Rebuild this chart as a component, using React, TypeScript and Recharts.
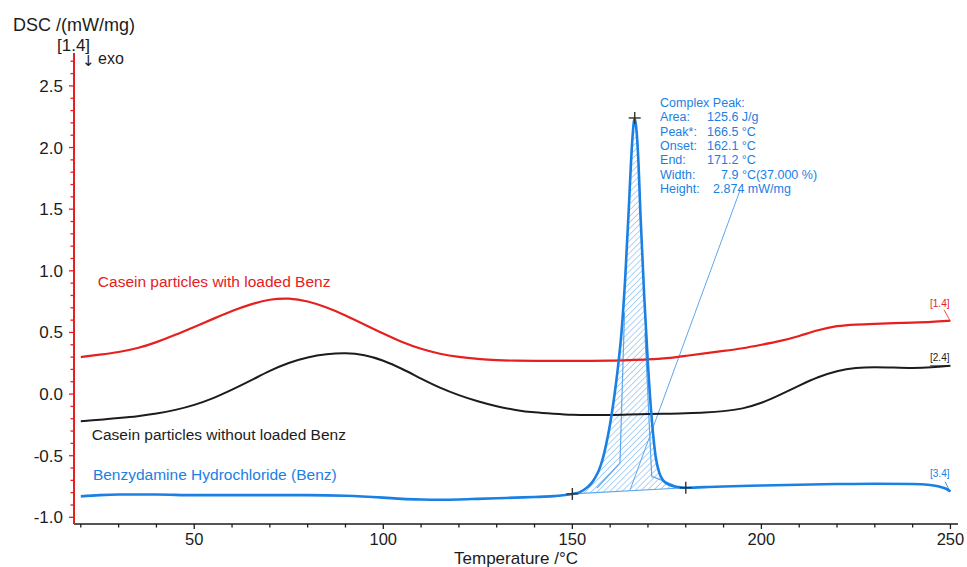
import React from 'react';
import { ComposedChart, Line, Area, XAxis, YAxis, ReferenceDot, ReferenceLine } from 'recharts';

const FONT = '"Liberation Sans", Arial, sans-serif';
const RED = '#e5201f';
const BLACK = '#1c1c1c';
const BLUE = '#1b80e4';
const HATCH = '#5ea7ec';

// Casein samples (°C)
const caseinT = [20, 25, 30, 35, 40, 45, 50, 55, 60, 65, 70, 75, 80, 85, 90, 95, 100, 105, 110, 115, 120, 125, 130, 135, 140, 145, 150, 155, 160, 165, 170, 175, 180, 185, 190, 195, 200, 205, 210, 215, 220, 225, 230, 235, 240, 245, 250];
const withBenz = [0.30, 0.32, 0.34, 0.37, 0.42, 0.48, 0.545, 0.61, 0.675, 0.73, 0.77, 0.78, 0.755, 0.705, 0.64, 0.565, 0.49, 0.42, 0.365, 0.325, 0.30, 0.285, 0.275, 0.27, 0.27, 0.27, 0.27, 0.27, 0.27, 0.275, 0.28, 0.29, 0.31, 0.33, 0.35, 0.37, 0.40, 0.43, 0.47, 0.52, 0.555, 0.565, 0.57, 0.575, 0.58, 0.585, 0.595];
const withoutBenz = [-0.22, -0.21, -0.195, -0.18, -0.16, -0.13, -0.09, -0.035, 0.035, 0.11, 0.19, 0.255, 0.30, 0.325, 0.335, 0.32, 0.275, 0.205, 0.125, 0.05, -0.01, -0.06, -0.10, -0.13, -0.15, -0.16, -0.17, -0.17, -0.17, -0.165, -0.16, -0.16, -0.155, -0.15, -0.14, -0.12, -0.075, -0.005, 0.07, 0.14, 0.19, 0.215, 0.22, 0.215, 0.21, 0.215, 0.23];

// Benzydamine hydrochloride
const benzPreT = [20, 25, 30, 40, 50, 60, 70, 80, 90, 100, 105, 110, 115, 120, 125, 130, 135, 140, 145];
const benzPre = [-0.83, -0.82, -0.815, -0.815, -0.82, -0.82, -0.82, -0.82, -0.825, -0.84, -0.85, -0.855, -0.857, -0.855, -0.85, -0.845, -0.84, -0.835, -0.828];
const peakT = [150, 152, 154, 155, 156, 157, 158, 159, 160, 161, 162, 163, 164, 165, 165.5, 166, 166.5, 167, 167.5, 168, 169, 170, 171, 172, 173, 174, 176, 178, 180];
const peakDSC = [-0.81, -0.795, -0.755, -0.725, -0.68, -0.62, -0.53, -0.40, -0.24, -0.04, 0.20, 0.50, 0.95, 1.55, 1.87, 2.12, 2.24, 2.13, 1.87, 1.47, 0.80, 0.24, -0.20, -0.50, -0.64, -0.70, -0.74, -0.755, -0.76];
const peakBase = [-0.81, -0.807, -0.803, -0.802, -0.8, -0.798, -0.797, -0.795, -0.793, -0.792, -0.79, -0.788, -0.787, -0.785, -0.784, -0.783, -0.783, -0.782, -0.781, -0.78, -0.778, -0.777, -0.775, -0.773, -0.772, -0.77, -0.767, -0.763, -0.76];
const benzPostT = [185, 190, 200, 210, 220, 230, 240, 244, 247, 249, 250];
const benzPost = [-0.755, -0.75, -0.742, -0.735, -0.73, -0.727, -0.73, -0.735, -0.75, -0.77, -0.79];

// Evaluation markers (+)
const markerT = [150, 180, 166.5];
const markerV = [-0.81, -0.76, 2.24];

// Axis ticks
const xTicks = [20, 30, 40, 50, 60, 70, 80, 90, 100, 110, 120, 130, 140, 150, 160, 170, 180, 190, 200, 210, 220, 230, 240, 250];
const yTicks = [-1.0, -0.9, -0.8, -0.7, -0.6, -0.5, -0.4, -0.3, -0.2, -0.1, 0.0, 0.1, 0.2, 0.3, 0.4, 0.5, 0.6, 0.7, 0.8, 0.9, 1.0, 1.1, 1.2, 1.3, 1.4, 1.5, 1.6, 1.7, 1.8, 1.9, 2.0, 2.1, 2.2, 2.3, 2.4, 2.5, 2.6, 2.7];

// Peak evaluation text
const peakLabels = ['Area:', 'Peak*:', 'Onset:', 'End:', 'Width:', 'Height:'];
const peakValues = ['125.6 J/g', '166.5 °C', '162.1 °C', '171.2 °C', '7.9 °C(37.000 %)', '2.874 mW/mg'];
const peakValueIndent = [0, 0, 0, 0, 14, 6];

const redData = caseinT.map((t, i) => ({ t, v: withBenz[i] }));
const blackData = caseinT.map((t, i) => ({ t, v: withoutBenz[i] }));
const blueData = [
  ...benzPreT.map((t, i) => ({ t, v: benzPre[i] })),
  ...peakT.map((t, i) => ({ t, v: peakDSC[i] })),
  ...benzPostT.map((t, i) => ({ t, v: benzPost[i] })),
];
const hatchData = peakT.map((t, i) => ({ t, range: [peakBase[i], peakDSC[i]] }));

const XTick = (props: any) => {
  const { x, y, payload } = props;
  const v = payload.value;
  const major = v % 50 === 0;
  return (
    <g>
      <line x1={x} y1={y} x2={x} y2={y + (major ? 5 : 3.5)} stroke={BLACK} strokeWidth={1.3} />
      {major && (
        <text x={x} y={y + 21} textAnchor="middle" fontSize={16.5} fill={BLACK} fontFamily={FONT}>
          {v}
        </text>
      )}
    </g>
  );
};

const YTick = (props: any) => {
  const { x, y, payload } = props;
  const v = payload.value;
  const major = Math.abs(v * 2 - Math.round(v * 2)) < 1e-6;
  return (
    <g>
      <line x1={x} y1={y} x2={x - (major ? 5 : 3.5)} y2={y} stroke={RED} strokeWidth={1.3} />
      {major && (
        <text x={x - 11} y={y + 6} textAnchor="end" fontSize={17} fill={BLACK} fontFamily={FONT}>
          {v.toFixed(1)}
        </text>
      )}
    </g>
  );
};

const TextAt = (content: string, color: string, size: number, anchor: string = 'start') => (props: any) => (
  <text x={props.cx} y={props.cy} fill={color} fontSize={size} fontFamily={FONT} textAnchor={anchor}>
    {content}
  </text>
);

const PeakBlock = (props: any) => {
  const { cx, cy } = props;
  return (
    <g fontFamily={FONT} fontSize={12.5} fill={BLUE}>
      <text x={cx} y={cy}>Complex Peak:</text>
      {peakLabels.map((l, i) => (
        <text key={l} x={cx} y={cy + 14.4 * (i + 1)}>{l}</text>
      ))}
      {peakValues.map((v, i) => (
        <text key={v} x={cx + 47 + peakValueIndent[i]} y={cy + 14.4 * (i + 1)}>{v}</text>
      ))}
    </g>
  );
};

const Cross = (props: any) => {
  const { cx, cy } = props;
  return (
    <g stroke="#333" strokeWidth={1.4}>
      <line x1={cx - 6} y1={cy} x2={cx + 6} y2={cy} />
      <line x1={cx} y1={cy - 6} x2={cx} y2={cy + 6} />
    </g>
  );
};

const YLabel = (props: any) => {
  const vb = props.viewBox || { x: 0, y: 53, width: 74, height: 471 };
  const ax = vb.x + vb.width;
  return (
    <g fontFamily={FONT} fill={BLACK}>
      <text x={vb.x + 13} y={vb.y - 22.5} fontSize={18}>DSC /(mW/mg)</text>
      <text x={ax - 17} y={vb.y - 2.5} fontSize={17}>[1.4]</text>
      <text x={ax + 8} y={vb.y + 13} fontSize={15} fontFamily='"DejaVu Sans", sans-serif'>↓</text>
      <text x={ax + 24} y={vb.y + 11} fontSize={16}>exo</text>
    </g>
  );
};

const XLabel = (props: any) => {
  const vb = props.viewBox || { x: 74, y: 524, width: 884, height: 43 };
  return (
    <text x={vb.x + vb.width / 2} y={vb.y + 39.5} textAnchor="middle" fontSize={17} fill={BLACK} fontFamily={FONT}>
      Temperature /°C
    </text>
  );
};

export default function App() {
  return (
    <div style={{ position: 'absolute', left: 0, top: 0, width: 967, height: 567, background: '#fff' }}>
      <ComposedChart width={967} height={567} margin={{ top: 53, right: 9, bottom: 0, left: 0 }}>
        <defs>
          <pattern id="hatch" patternUnits="userSpaceOnUse" width="4.3" height="4.3" patternTransform="rotate(45)">
            <line x1="0" y1="0" x2="0" y2="4.3" stroke={HATCH} strokeWidth="1" />
          </pattern>
        </defs>
        <XAxis
          dataKey="t"
          type="number"
          domain={[18.2, 252]}
          allowDataOverflow
          ticks={xTicks}
          interval={0}
          tickLine={false}
          tickSize={0}
          tickMargin={0}
          tick={<XTick />}
          axisLine={{ stroke: BLACK, strokeWidth: 1.5 }}
          height={43}
          label={<XLabel />}
        />
        <YAxis
          type="number"
          domain={[-1.054, 2.767]}
          allowDataOverflow
          ticks={yTicks}
          interval={0}
          tickLine={false}
          tickSize={0}
          tickMargin={0}
          tick={<YTick />}
          axisLine={{ stroke: RED, strokeWidth: 2 }}
          width={74}
          label={<YLabel />}
        />
        <Area
          data={hatchData}
          dataKey="range"
          type="monotone"
          stroke="none"
          fill="url(#hatch)"
          fillOpacity={1}
          isAnimationActive={false}
          activeDot={false}
          dot={false}
        />
        <ReferenceLine segment={[{ x: 150, y: -0.81 }, { x: 180, y: -0.76 }]} stroke={HATCH} strokeWidth={1.2} />
        <ReferenceLine segment={[{ x: 156.5, y: -0.762 }, { x: 162.6, y: -0.56 }]} stroke={HATCH} strokeWidth={1.2} />
        <ReferenceLine segment={[{ x: 162.6, y: -0.56 }, { x: 163.8, y: 0.66 }]} stroke={HATCH} strokeWidth={1.2} />
        <ReferenceLine segment={[{ x: 176.7, y: -0.736 }, { x: 171.0, y: -0.668 }]} stroke={HATCH} strokeWidth={1.2} />
        <ReferenceLine segment={[{ x: 171.0, y: -0.668 }, { x: 169.2, y: 0.497 }]} stroke={HATCH} strokeWidth={1.2} />
        <ReferenceLine segment={[{ x: 194.4, y: 1.657 }, { x: 165.3, y: -0.776 }]} stroke={HATCH} strokeWidth={1} />
        <Line data={redData} dataKey="v" type="basis" stroke={RED} strokeWidth={2.2} dot={false} activeDot={false} isAnimationActive={false} />
        <Line data={blackData} dataKey="v" type="basis" stroke={BLACK} strokeWidth={2} dot={false} activeDot={false} isAnimationActive={false} />
        <Line data={blueData} dataKey="v" type="monotone" stroke={BLUE} strokeWidth={2.6} dot={false} activeDot={false} isAnimationActive={false} />
        {markerT.map((t, i) => (
          <ReferenceDot key={'m' + i} x={t} y={markerV[i]} r={6} shape={<Cross />} />
        ))}
        <ReferenceLine segment={[{ x: 248.3, y: 0.684 }, { x: 249.9, y: 0.594 }]} stroke={RED} strokeWidth={0.8} />
        <ReferenceLine segment={[{ x: 244.6, y: 0.23 }, { x: 249.9, y: 0.23 }]} stroke={BLACK} strokeWidth={0.8} />
        <ReferenceLine segment={[{ x: 248.6, y: -0.711 }, { x: 249.9, y: -0.792 }]} stroke={BLUE} strokeWidth={0.8} />
        <ReferenceDot x={244.6} y={0.708} r={1} shape={TextAt('[1.4]', RED, 10)} />
        <ReferenceDot x={244.6} y={0.27} r={1} shape={TextAt('[2.4]', BLACK, 10)} />
        <ReferenceDot x={244.6} y={-0.671} r={1} shape={TextAt('[3.4]', BLUE, 10)} />
        <ReferenceDot x={24.5} y={0.87} r={1} shape={TextAt('Casein particles with loaded Benz', RED, 15.5)} />
        <ReferenceDot x={22.9} y={-0.371} r={1} shape={TextAt('Casein particles without loaded Benz', BLACK, 15.5)} />
        <ReferenceDot x={23.2} y={-0.695} r={1} shape={TextAt('Benzydamine Hydrochloride (Benz)', BLUE, 15.5)} />
        <ReferenceDot x={173.2} y={2.33} r={1} shape={<PeakBlock />} />
      </ComposedChart>
    </div>
  );
}
